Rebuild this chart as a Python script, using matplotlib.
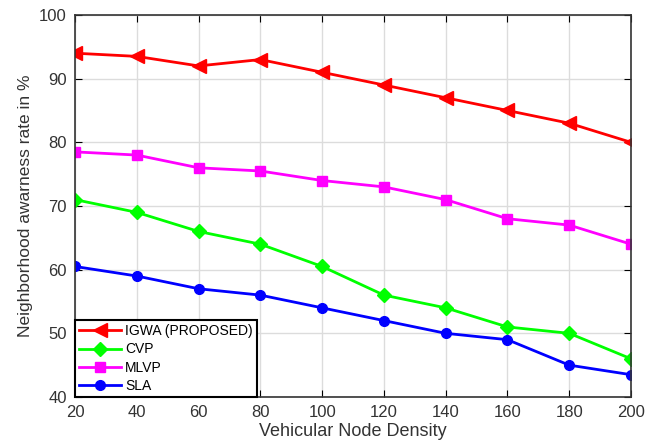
import matplotlib.pyplot as plt

plt.rcParams['font.family'] = ['Liberation Sans', 'DejaVu Sans']

density = [20, 40, 60, 80, 100, 120, 140, 160, 180, 200]
igwa = [94, 93.5, 92, 93, 91, 89, 87, 85, 83, 80]
cvp = [71, 69, 66, 64, 60.5, 56, 54, 51, 50, 46]
mlvp = [78.5, 78, 76, 75.5, 74, 73, 71, 68, 67, 64]
sla = [60.5, 59, 57, 56, 54, 52, 50, 49, 45, 43.5]

fig = plt.figure(figsize=(6.49, 4.45), dpi=100)
ax = fig.add_axes([0.1156, 0.1079, 0.8567, 0.8584])

ax.plot(density, igwa, color='red', marker='<', markersize=10, linewidth=2, label='IGWA (PROPOSED)')
ax.plot(density, cvp, color='#00ff00', marker='D', markersize=7, linewidth=2, label='CVP')
ax.plot(density, mlvp, color='magenta', marker='s', markersize=7, linewidth=2, label='MLVP')
ax.plot(density, sla, color='blue', marker='o', markersize=7, linewidth=2, label='SLA')

ax.set_xlim(20, 200)
ax.set_ylim(40, 100)
ax.set_xticks(density)
ax.set_yticks(range(40, 101, 10))
ax.grid(True, color='#dcdcdc', linewidth=1)
ax.tick_params(direction='in', labelsize=12, labelcolor='#333333', length=5,
               top=True, right=True, pad=6)
for s in ax.spines.values():
    s.set_color('#333333')
    s.set_linewidth(1.2)

ax.set_xlabel('Vehicular Node Density', fontsize=13, color='#333333', labelpad=2)
ax.set_ylabel('Neighborhood awarness rate in %', fontsize=12.5, color='#333333')

leg = ax.legend(loc='lower left', fontsize=10, fancybox=False, framealpha=1,
                edgecolor='black', borderaxespad=0, handlelength=3,
                labelspacing=0.3, borderpad=0.3, handletextpad=0.3)
leg.get_frame().set_linewidth(1.5)

fig.savefig('out.png')
